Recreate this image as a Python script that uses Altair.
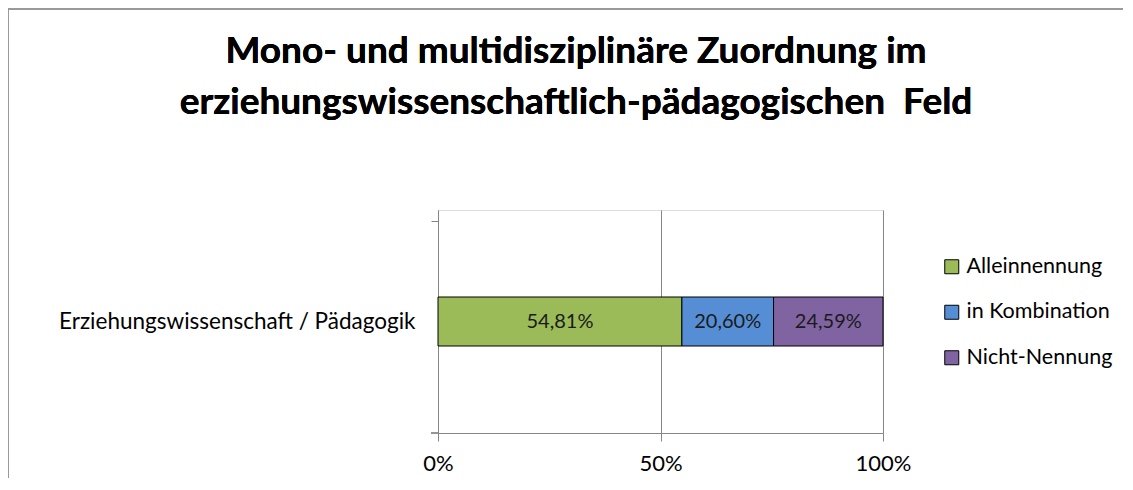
import altair as alt
import pandas as pd

title_line1 = "Mono- und multidisziplinäre Zuordnung im"
title_line2 = "erziehungswissenschaftlich-pädagogischen\u00a0 Feld"
category = ["Erziehungswissenschaft / Pädagogik"] * 3
series = ["Alleinnennung", "in Kombination", "Nicht-Nennung"]
values = [54.81, 20.60, 24.59]
labels = ["54,81%", "20,60%", "24,59%"]
colors = ["#9BBB59", "#558ED5", "#8064A2"]
x_ticks = [0, 0.5, 1]

FONT = "Lato"

df = pd.DataFrame({"cat": category, "series": series, "value": values,
                   "label": labels, "order": [0, 1, 2]})

base = alt.Chart(df).transform_joinaggregate(
    total="sum(value)"
).transform_calculate(
    share="datum.value / datum.total"
).transform_stack(
    stack="share", groupby=["cat"], as_=["x0", "x1"], sort=[alt.SortField("order")]
).transform_calculate(
    xm="(datum.x0 + datum.x1) / 2"
)

bars = base.mark_bar(size=49, stroke="black", strokeWidth=1).encode(
    y=alt.Y("cat:N", title=None,
            axis=alt.Axis(labelFont=FONT, labelFontSize=22.5, labelColor="#000",
                          labelLimit=0, labelPadding=16, domainColor="#868686",
                          tickColor="#868686", tickSize=7, bandPosition=0,
                          labelBaseline="middle")),
    x=alt.X("x0:Q", title=None, scale=alt.Scale(domain=[0, 1], nice=False),
            axis=alt.Axis(values=x_ticks, format="%", labelFont=FONT, labelFontSize=22,
                          labelColor="#000", domainColor="#868686", tickColor="#868686",
                          tickSize=8, gridColor="#868686", grid=True, labelPadding=12,
                          labelFlush=False)),
    x2="x1:Q",
    color=alt.Color("series:N", scale=alt.Scale(domain=series, range=colors),
                    legend=alt.Legend(title=None, orient="none", legendX=503, legendY=46,
                                      symbolType="square", symbolSize=196,
                                      symbolStrokeColor="black", symbolStrokeWidth=1,
                                      symbolOpacity=1,
                                      labelFont=FONT, labelFontSize=21.5, labelColor="#000",
                                      rowPadding=22.5, labelOffset=4, labelLimit=0)),
    order=alt.Order("order:Q"),
)

text = base.mark_text(font=FONT, fontSize=20, color="#1a1a1a").encode(
    y="cat:N",
    x="xm:Q",
    text="label:N",
)

t1 = alt.Chart(df).mark_text(font=FONT, fontSize=37, fontWeight="bold", color="#000",
                             baseline="middle", align="center").encode(
    x=alt.value(138), y=alt.value(-158), text=alt.value(title_line1))
t2 = alt.Chart(df).mark_text(font=FONT, fontSize=37, fontWeight="bold", color="#000",
                             baseline="middle", align="center").encode(
    x=alt.value(138), y=alt.value(-107), text=alt.value(title_line2))

frame_top = alt.Chart(df).mark_rule(color="#9a9a9a", strokeWidth=2).encode(
    x=alt.value(-430), x2=alt.value(800), y=alt.value(-201)
)
frame_left = alt.Chart(df).mark_rule(color="#9a9a9a", strokeWidth=2).encode(
    x=alt.value(-430), y=alt.value(-201), y2=alt.value(300)
)
x_domain_ext = alt.Chart(df).mark_rule(color="#868686", strokeWidth=1).encode(
    x=alt.value(-7), x2=alt.value(0), y=alt.value(223)
)

chart = alt.layer(bars, text, t1, t2, frame_top, frame_left, x_domain_ext).properties(
    width=445, height=223,
    autosize=alt.AutoSizeParams(type="none"),
    padding={"left": 430, "top": 202, "right": 240, "bottom": 45},
).configure_view(stroke=None).configure(background="white")

chart.save("out.html", embed_options={"renderer": "svg", "actions": False})
